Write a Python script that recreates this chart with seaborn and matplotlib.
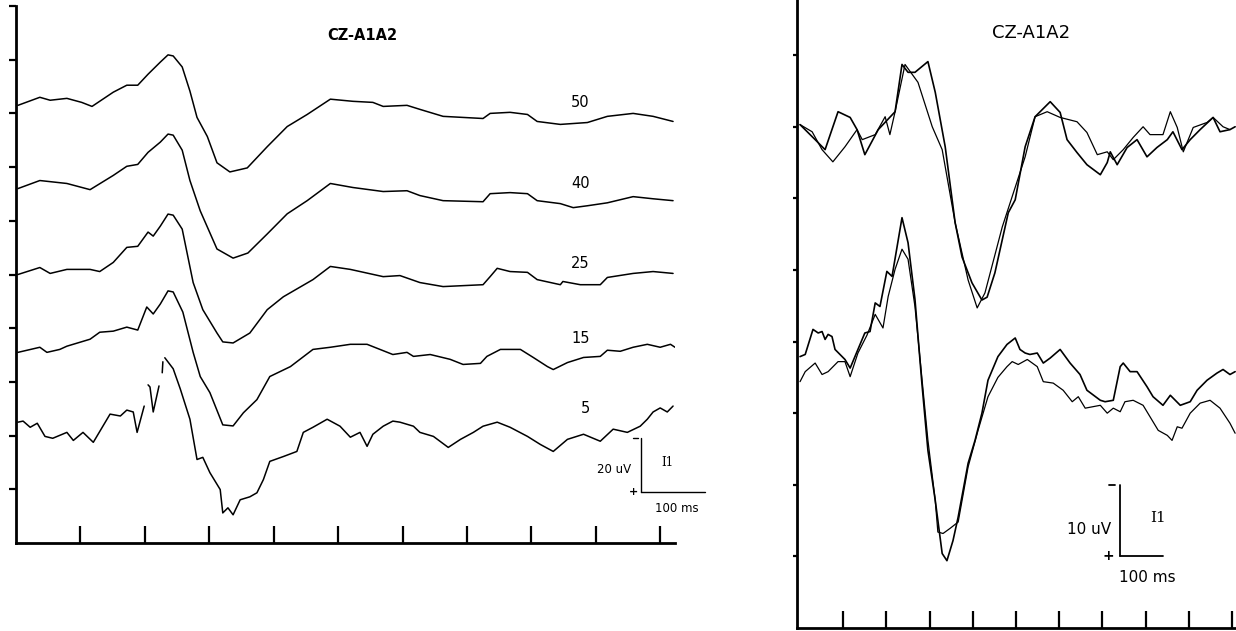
import numpy as np
import pandas as pd
import matplotlib
matplotlib.use("Agg")
import matplotlib.pyplot as plt
import seaborn as sns

# ---------------- data (time in ms, voltage in uV; positive = downward) ----------------
# Left panel: averaged CZ-A1A2 traces for 5 conditions
left_labels = ["50", "40", "25", "15", "5"]
left_offsets = [163, 132, 100, 71, 45]          # stacking baseline of each trace (uV on plot scale)
left_label_t = [876, 876, 876, 876, 884]
left_label_y = [164, 134, 104, 76, 50]

t50 = [3, 37, 53, 79, 102, 118, 151, 172, 189, 205, 224, 236, 244, 258, 270, 281, 297, 312, 332, 359,
       390, 421, 452, 488, 523, 554, 570, 607, 627, 663, 725, 736, 767, 794, 809, 845, 887, 918, 958,
       989, 1020]
v50 = [0, -3.0, -1.9, -2.6, -1.1, 0.4, -4.9, -7.5, -7.5, -11.6, -16.1, -18.8, -18.4, -14.3, -5.3, 4.5,
       11.6, 21.4, 24.8, 23.3, 15.4, 7.9, 3.4, -2.3, -1.5, -1.1, 0.4, 0, 1.5, 4.1, 4.9, 3.0, 2.6, 3.4,
       6.0, 7.1, 6.4, 4.1, 3.0, 4.1, 6.0]

t40 = [3, 37, 79, 115, 151, 172, 189, 205, 224, 236, 244, 258, 270, 286, 312, 337, 360, 390, 421, 452,
       488, 523, 570, 607, 627, 663, 725, 736, 767, 794, 809, 845, 865, 887, 918, 958, 989, 1020]
v40 = [0, -3.0, -1.9, 0.4, -4.9, -8.3, -9.0, -13.5, -17.3, -20.3, -19.9, -14.3, -3.0, 8.3, 22.5, 25.9,
       24.0, 16.9, 9.4, 4.5, -1.9, -0.4, 1.1, 0.8, 2.6, 4.5, 4.9, 1.9, 1.5, 1.9, 4.5, 5.6, 7.1, 6.4, 5.3,
       3.0, 3.8, 4.5]

t25 = [3, 37, 53, 79, 115, 130, 151, 172, 189, 205, 213, 224, 236, 244, 258, 275, 290, 312, 321, 337,
       363, 390, 415, 461, 488, 519, 570, 596, 627, 663, 725, 736, 747, 767, 794, 809, 845, 849, 876,
       907, 918, 958, 989, 1020]
v25 = [0, -2.6, -0.4, -1.9, -1.9, -1.1, -4.5, -10.1, -10.5, -15.8, -14.3, -18.0, -22.5, -22.1, -16.9,
       3.0, 13.1, 21.8, 25.1, 25.5, 21.8, 13.1, 8.3, 1.9, -3.0, -1.9, 0.8, 0.4, 3.0, 4.5, 3.8, 0.8, -2.3,
       -1.1, -0.8, 1.9, 3.8, 2.6, 3.8, 3.8, 1.1, -0.4, -1.1, -0.4]

t15 = [3, 37, 48, 68, 79, 115, 130, 151, 172, 189, 203, 213, 224, 236, 244, 259, 275, 286, 301, 321,
       337, 353, 374, 394, 426, 461, 488, 519, 545, 585, 607, 617, 643, 674, 694, 721, 731, 752, 783,
       803, 825, 834, 856, 881, 907, 918, 938, 958, 980, 1000, 1016, 1023]
v15 = [0, -1.9, 0, -1.1, -2.3, -4.9, -7.5, -7.9, -9.4, -8.3, -16.9, -14.3, -18.0, -22.9, -22.5, -15.0,
       0, 9.0, 15.0, 27.0, 27.4, 22.5, 17.6, 9.0, 5.3, -1.1, -1.9, -3.0, -3.0, 0.8, 0, 1.5, 0.8, 2.6, 4.5,
       4.1, 1.5, -1.1, -1.1, 1.9, 5.3, 6.4, 3.8, 1.9, 1.5, -0.8, -0.4, -1.9, -3.0, -1.9, -3.0, -1.9]

# trace 5 has small pen gaps (segment id)
t5 = [3, 11, 22, 33, 45, 57, 79, 89, 104, 120, 146, 162, 172, 182, 188, 199,
      205, 208, 213, 222,
      227, 228,
      231, 244, 255, 270, 281, 290, 301, 317, 321, 329, 337, 348, 363, 374, 384, 394, 415, 436, 446,
      461, 483, 503, 519, 534, 545, 554, 570, 585, 596, 617, 627, 648, 671, 690, 710, 725, 747, 767,
      794, 814, 834, 856, 881, 907, 927, 949, 969, 980, 989, 1000, 1011, 1020]
v5 = [0, -0.4, 1.9, 0.4, 5.3, 6.0, 3.8, 6.8, 3.8, 7.5, -3.0, -2.3, -4.5, -3.8, 3.8, -6.0,
      -13.9, -13.1, -3.8, -13.5,
      -18.4, -22.5,
      -24.0, -19.9, -12.4, -1.1, 13.9, 13.1, 18.8, 25.1, 33.8, 31.9, 34.5, 28.9, 27.8, 26.3, 21.4, 14.6,
      12.8, 10.9, 3.8, 1.9, -1.1, 1.5, 5.6, 3.8, 9.0, 4.5, 1.5, -0.4, 0, 1.5, 3.8, 5.3, 9.4, 6.4, 3.8,
      1.5, 0, 1.9, 5.3, 8.3, 10.9, 6.4, 4.5, 7.1, 2.6, 3.8, 1.5, -1.1, -3.8, -5.3, -3.8, -6.0]
seg5 = [0] * 16 + [1] * 4 + [2] * 2 + [3] * 52

# Right panel: two superimposed pairs of traces
right_offsets = [70, 70, 35, 35]

tu1 = [0, 35, 58, 88, 116, 132, 150, 181, 220, 236, 250, 266, 296, 313, 336, 359, 375, 398, 421, 433,
       451, 482, 498, 521, 544, 579, 602, 618, 641, 664, 695, 711, 718, 734, 757, 780, 803, 826, 850,
       863, 884, 903, 926, 956, 972, 995, 1007]
vu1 = [-0.3, 1.8, 3.2, -2.1, -1.3, 0.4, 3.9, 0.4, -2.1, -8.7, -7.6, -7.6, -9.1, -4.8, 2.8, 13.4, 18.2,
       21.8, 24.2, 23.8, 20.4, 12.0, 10.2, 2.8, -1.4, -3.5, -2.0, 1.8, 3.6, 5.3, 6.7, 5.0, 3.5, 5.3, 2.9,
       1.8, 4.2, 2.9, 1.8, 0.7, 3.2, 1.8, 0.4, -1.3, 0.7, 0.4, 0]

tu2 = [0, 28, 51, 76, 104, 132, 144, 174, 197, 208, 220, 243, 273, 306, 329, 359, 389, 410, 428, 468,
       521, 544, 572, 602, 641, 664, 688, 711, 725, 748, 771, 794, 810, 840, 857, 873, 887, 910, 942,
       956, 979, 995]
vu2 = [-0.3, 0.7, 3.2, 4.9, 2.8, 0.4, 1.8, 1.1, -1.4, 1.1, -2.1, -8.7, -6.2, 0, 3.2, 13.4, 21.4, 25.3,
       23.2, 14.0, 4.2, -1.4, -2.1, -1.3, -0.7, 0.8, 3.9, 3.5, 4.6, 3.2, 1.5, 0, 1.1, 1.1, -2.1, 0.1,
       3.5, 0.1, -0.6, -1.3, 0, 0.4]

tl1 = [0, 12, 30, 42, 51, 58, 65, 74, 81, 104, 116, 134, 150, 162, 174, 185, 201, 213, 236, 250, 266,
       282, 296, 313, 329, 340, 354, 366, 389, 405, 421, 435, 458, 479, 498, 509, 521, 532, 549, 563,
       579, 602, 625, 648, 664, 695, 706, 725, 741, 748, 764, 780, 803, 817, 840, 857, 880, 903, 919,
       942, 965, 979, 995, 1007]
vl1 = [-2.9, -3.2, -6.7, -6.2, -6.4, -5.3, -6.0, -5.7, -3.9, -2.5, -1.3, -3.9, -6.2, -6.4, -10.4, -9.9,
       -14.8, -14.1, -22.3, -18.8, -10.9, 0.8, 10.2, 17.2, 24.6, 25.6, 22.8, 19.5, 12.0, 8.8, 5.0, 0.4,
       -2.9, -4.6, -5.5, -3.9, -3.4, -3.2, -3.4, -2.0, -2.7, -3.9, -2.0, -0.4, 1.8, 3.2, 3.4, 3.2, -1.5,
       -2.0, -0.8, -0.8, 1.3, 2.7, 3.9, 2.5, 3.9, 3.4, 1.8, 0.4, -0.6, -1.1, -0.4, -0.8]

tl2 = [0, 12, 35, 51, 65, 88, 104, 116, 134, 155, 174, 192, 204, 220, 236, 250, 266, 296, 313, 319,
       331, 347, 366, 389, 412, 435, 458, 479, 491, 505, 526, 549, 563, 586, 609, 630, 644, 660, 695,
       711, 725, 741, 752, 771, 794, 815, 829, 850, 861, 873, 884, 903, 926, 949, 972, 995, 1007]
vl2 = [0.6, -0.8, -2.0, -0.4, -0.8, -2.2, -2.2, -0.1, -3.4, -5.9, -8.8, -6.9, -11.3, -15.1, -17.9,
       -16.5, -9.9, 8.8, 17.2, 21.6, 21.8, 21.1, 20.2, 12.5, 7.4, 2.7, 0, -1.5, -2.2, -1.8, -2.5, -1.5,
       0.6, 0.8, 1.8, 3.4, 2.7, 4.3, 3.9, 5.0, 4.3, 4.8, 3.4, 3.2, 3.9, 6.0, 7.4, 8.1, 8.8, 6.9, 7.1, 5.0,
       3.6, 3.2, 4.3, 6.4, 7.8]

x_ticks = [100, 200, 300, 400, 500, 600, 700, 800, 900, 1000]
left_y_ticks = [20, 40, 60, 80, 100, 120, 140, 160, 180, 200]
right_y_ticks = [10, 20, 30, 40, 50, 60, 70, 80]

# ---------------- figure ----------------
sns.set_theme(style="white")
plt.rcParams["font.family"] = ["DejaVu Sans"]
plt.rcParams["text.color"] = "black"

W, H = 1236, 631
fig = plt.figure(figsize=(W / 100, H / 100), dpi=100)
axL = fig.add_axes([16 / W, 88 / H, 659 / W, 537 / H])
axR = fig.add_axes([797 / W, 3 / H, 439 / W, 628 / H])

lw = 1.1
left_t = [t50, t40, t25, t15]
left_v = [v50, v40, v25, v15]
for tt, vv, off in zip(left_t, left_v, left_offsets[:4]):
    df = pd.DataFrame({"t": tt, "y": off - np.array(vv)})
    sns.lineplot(data=df, x="t", y="y", ax=axL, color="black", lw=lw, sort=False,
                 estimator=None, legend=False)
df5 = pd.DataFrame({"t": t5, "y": left_offsets[4] - np.array(v5), "seg": seg5})
sns.lineplot(data=df5, x="t", y="y", units="seg", ax=axL, color="black", lw=lw, sort=False,
             estimator=None, legend=False)

for lab, lt, ly in zip(left_labels, left_label_t, left_label_y):
    axL.text(lt, ly, lab, ha="center", va="center", fontsize=10.5, color="black")

axL.text(537, 189, "CZ-A1A2", ha="center", va="center", fontsize=10.5, fontweight="bold",
         color="black")

# scale bar (left)
axL.plot([970, 970], [19, 39], color="black", lw=1.0, clip_on=False)
axL.plot([970, 1070], [19, 19], color="black", lw=1.0, clip_on=False)
axL.plot([958, 966], [39, 39], color="black", lw=1.0, clip_on=False)
axL.text(958, 19, "+", ha="center", va="center", fontsize=8, fontweight="bold", color="black")
axL.text(955, 27.5, "20 uV", ha="right", va="center", fontsize=8.5, color="black")
axL.text(1011, 30, "I1", ha="center", va="center", fontsize=8.5, family="DejaVu Serif",
         color="black")
axL.text(1026, 13, "100 ms", ha="center", va="center", fontsize=8.5, color="black")

axL.set_xlim(0, 1023)
axL.set_ylim(0, 200)

# right panel
right_t = [tu1, tu2, tl1, tl2]
right_v = [vu1, vu2, vl1, vl2]
right_lw = [1.2, 0.9, 1.2, 0.9]
for tt, vv, off, w in zip(right_t, right_v, right_offsets, right_lw):
    df = pd.DataFrame({"t": tt, "y": off - np.array(vv)})
    sns.lineplot(data=df, x="t", y="y", ax=axR, color="black", lw=w, sort=False,
                 estimator=None, legend=False)

axR.text(535, 83.1, "CZ-A1A2", ha="center", va="center", fontsize=13, color="black")
axR.plot([741, 741], [10, 20], color="black", lw=1.3)
axR.plot([741, 841], [10, 10], color="black", lw=1.3)
axR.plot([716, 729], [20, 20], color="black", lw=1.3)
axR.text(714, 10, "+", ha="center", va="center", fontsize=10, fontweight="bold", color="black")
axR.text(720, 13.8, "10 uV", ha="right", va="center", fontsize=11, color="black")
axR.text(829, 15.4, "I1", ha="center", va="center", fontsize=11, family="DejaVu Serif",
         color="black")
axR.text(803, 7.1, "100 ms", ha="center", va="center", fontsize=11, color="black")

axR.set_xlim(-7, 1009)
axR.set_ylim(0, 87.7)

for ax, yt, ylen in [(axL, left_y_ticks, 5), (axR, right_y_ticks, 3)]:
    for s in ["top", "right"]:
        ax.spines[s].set_visible(False)
    for s in ["left", "bottom"]:
        ax.spines[s].set_visible(True)
        ax.spines[s].set_color("black")
        ax.spines[s].set_linewidth(2.0)
    ax.set_xticks(x_ticks)
    ax.set_yticks(yt)
    ax.set_xticklabels([])
    ax.set_yticklabels([])
    ax.tick_params(axis="x", direction="in", length=12.5, width=1.6, color="black", bottom=True)
    ax.tick_params(axis="y", direction="out", length=ylen, width=1.6, color="black", left=True)
    ax.set_xlabel("")
    ax.set_ylabel("")
    ax.set_facecolor("white")
    ax.patch.set_alpha(0)

fig.savefig("out.png", dpi=100, facecolor="white")
